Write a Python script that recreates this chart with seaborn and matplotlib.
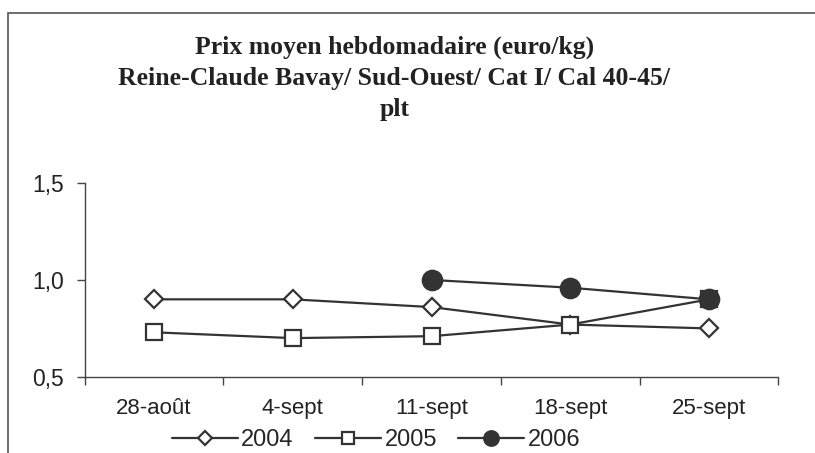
import numpy as np
import pandas as pd
import seaborn as sns
import matplotlib.pyplot as plt
from matplotlib.patches import Rectangle
from matplotlib.ticker import FixedLocator, FuncFormatter

# ── data ──────────────────────────────────────────────────────────────────────
weeks = ["28-août", "4-sept", "11-sept", "18-sept", "25-sept"]
prix_2004 = [0.90, 0.90, 0.86, 0.77, 0.75]
prix_2005 = [0.73, 0.70, 0.71, 0.77, 0.90]
prix_2006 = [np.nan, np.nan, 1.00, 0.96, 0.90]
years = ["2004", "2005", "2006"]

df = pd.DataFrame({
    "semaine": weeks * 3,
    "pos": list(range(len(weeks))) * 3,
    "prix": prix_2004 + prix_2005 + prix_2006,
    "annee": np.repeat(years, len(weeks)),
}).dropna()

# ── style ─────────────────────────────────────────────────────────────────────
sns.set_style("white")
plt.rcParams["font.family"] = ["Liberation Sans", "DejaVu Sans"]

fig = plt.figure(figsize=(8.15, 4.53), dpi=100)
ax = fig.add_axes([0.104, 0.168, 0.851, 0.428])

line_col = "#333333"
styles = {
    "2004": dict(marker="D", markersize=9.5, markerfacecolor="white"),
    "2005": dict(marker="s", markersize=11.5, markerfacecolor="white"),
    "2006": dict(marker="o", markersize=14, markerfacecolor=line_col),
}

handles = []
for yr in years:
    sub = df[df["annee"] == yr]
    sns.lineplot(data=sub, x="pos", y="prix", ax=ax, color=line_col,
                 linewidth=1.6, markeredgecolor=line_col, markeredgewidth=1.6,
                 **styles[yr])
    handles.append(ax.lines[-1])

# ── axes ──────────────────────────────────────────────────────────────────────
ax.set_xlim(-0.5, len(weeks) - 0.5)
ax.set_ylim(0.5, 1.5)
ax.set_xticks(range(len(weeks)))
ax.set_xticklabels(weeks, fontsize=16, color="#222222")
ax.xaxis.set_minor_locator(FixedLocator(np.arange(-0.5, len(weeks), 1.0)))
ax.tick_params(axis="x", which="major", length=0, pad=15)
ax.tick_params(axis="x", which="minor", length=6, width=1, color="#444444",
               direction="out", bottom=True)
ax.set_yticks([0.5, 1.0, 1.5])
ax.yaxis.set_major_formatter(FuncFormatter(lambda v, _: f"{v:.1f}".replace(".", ",")))
ax.tick_params(axis="y", length=6, width=1, color="#444444", direction="out",
               left=True, labelsize=16.5, labelcolor="#222222", pad=9)
ax.set_xlabel("")
ax.set_ylabel("")
for s in ["top", "right"]:
    ax.spines[s].set_visible(False)
for s in ["left", "bottom"]:
    ax.spines[s].set_color("#444444")
    ax.spines[s].set_linewidth(1)

ax.legend(handles, years, loc="upper center", bbox_to_anchor=(0.42, -0.27),
          ncol=3, frameon=False, fontsize=17, handlelength=2.8,
          handletextpad=0.15, columnspacing=0.9, borderaxespad=0,
          borderpad=0, markerscale=0.75)

# ── title ─────────────────────────────────────────────────────────────────────
fig.text(0.484, 0.922,
         "Prix moyen hebdomadaire (euro/kg)\n"
         "Reine-Claude Bavay/ Sud-Ouest/ Cat I/ Cal 40-45/\nplt",
         ha="center", va="top", fontsize=18.5, fontweight="bold",
         family=["Liberation Serif", "DejaVu Serif"], color="#222222",
         linespacing=1.45)

# chart frame (cropped at right and bottom)
fig.patches.append(Rectangle((8 / 815, -0.1), 1.2, 1 - 13 / 453 + 0.1,
                             transform=fig.transFigure, fill=False,
                             edgecolor="#555555", linewidth=1.2))

fig.savefig("out.png", dpi=100)
